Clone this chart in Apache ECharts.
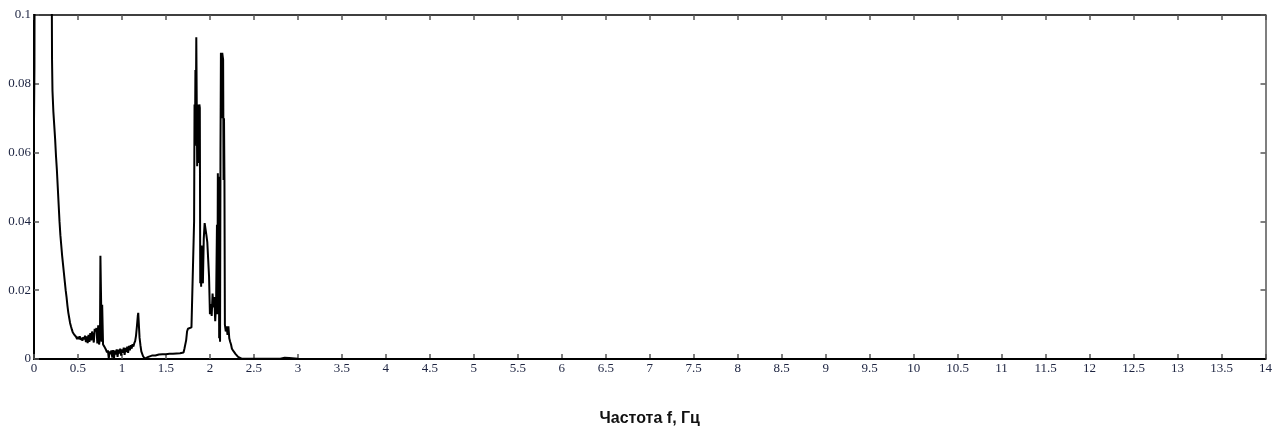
<!DOCTYPE html>
<html>
<head>
<meta charset="utf-8">
<script src="https://cdn.jsdelivr.net/npm/echarts@6/dist/echarts.min.js"></script>
<style>html,body{margin:0;padding:0;background:#fff;}#c{width:1275px;height:432px;}</style>
</head>
<body>
<div id="c"></div>
<script>
// Frequency (Hz) and amplitude values
const freq = [
  0, 0.005, 0.01, 0.03, 0.06, 0.1, 0.14, 0.18, 0.2, 0.205, 0.21, 0.22, 0.23, 0.24, 0.25, 0.26, 0.27, 0.28, 0.29, 0.30,
  0.31, 0.32, 0.33, 0.34, 0.35, 0.36, 0.37, 0.38, 0.39, 0.40, 0.41, 0.42, 0.43, 0.44, 0.45, 0.46, 0.47, 0.48, 0.49, 0.50,
  0.51, 0.52, 0.53, 0.54, 0.55, 0.56, 0.57, 0.58, 0.59, 0.60, 0.61, 0.62, 0.63, 0.64, 0.65, 0.66, 0.67, 0.68, 0.69, 0.70,
  0.71, 0.72, 0.73, 0.74, 0.75, 0.755, 0.765, 0.77, 0.775, 0.785, 0.80, 0.81, 0.82, 0.83, 0.84, 0.85, 0.86, 0.87, 0.88, 0.89,
  0.90, 0.91, 0.92, 0.93, 0.94, 0.95, 0.96, 0.97, 0.98, 0.99, 1.00, 1.01, 1.02, 1.03, 1.04, 1.05, 1.06, 1.07, 1.08, 1.09,
  1.10, 1.11, 1.12, 1.13, 1.14, 1.15, 1.16, 1.17, 1.18, 1.185, 1.195, 1.20, 1.21, 1.22, 1.24, 1.26, 1.28, 1.30, 1.32, 1.34,
  1.36, 1.38, 1.40, 1.42, 1.44, 1.46, 1.48, 1.50, 1.52, 1.54, 1.56, 1.58, 1.60, 1.62, 1.64, 1.66, 1.68, 1.70, 1.71, 1.72,
  1.73, 1.74, 1.75, 1.77, 1.79, 1.81, 1.82, 1.825, 1.83, 1.835, 1.84, 1.845, 1.85, 1.855, 1.86, 1.865, 1.87, 1.875, 1.88, 1.885,
  1.89, 1.895, 1.90, 1.905, 1.91, 1.92, 1.93, 1.94, 1.95, 1.96, 1.97, 1.98, 1.99, 2.00, 2.01, 2.02, 2.03, 2.04, 2.05, 2.06,
  2.07, 2.08, 2.085, 2.09, 2.095, 2.10, 2.105, 2.11, 2.115, 2.12, 2.125, 2.13, 2.135, 2.14, 2.145, 2.15, 2.155, 2.16, 2.165, 2.17,
  2.18, 2.19, 2.20, 2.21, 2.22, 2.23, 2.24, 2.25, 2.26, 2.27, 2.28, 2.29, 2.30, 2.32, 2.34, 2.36, 2.40, 2.50, 2.60, 2.70,
  2.80, 2.85, 2.87, 2.90, 2.92, 3.0, 3.5, 4.0, 5.0, 6.0, 7.0, 8.0, 9.0, 10.0, 11.0, 12.0, 13.0, 14.0
];
const amp = [
  0.069, 0.085, 0.16, 0.24, 0.30, 0.28, 0.22, 0.15, 0.12, 0.087, 0.078, 0.072, 0.068, 0.064, 0.059, 0.055, 0.050, 0.045, 0.040, 0.036,
  0.033, 0.030, 0.0275, 0.025, 0.0225, 0.020, 0.018, 0.0155, 0.0135, 0.012, 0.0105, 0.0095, 0.0086, 0.0078, 0.0073, 0.0070, 0.0066, 0.0064, 0.0058, 0.0064,
  0.0058, 0.0066, 0.0056, 0.0062, 0.0053, 0.0063, 0.0057, 0.0068, 0.0049, 0.0066, 0.0046, 0.0070, 0.0050, 0.0075, 0.0054, 0.0080, 0.0083, 0.0048, 0.0088, 0.0080,
  0.0090, 0.0045, 0.0098, 0.0042, 0.0060, 0.030, 0.0295, 0.0050, 0.0158, 0.0042, 0.0036, 0.0031, 0.0026, 0.0019, 0.0025, 0.0002, 0.0022, 0.0014, 0.0025, 0.0004,
  0.0026, 0.0003, 0.0024, 0.0013, 0.0028, 0.0006, 0.0027, 0.0016, 0.0030, 0.0010, 0.0028, 0.0018, 0.0033, 0.0012, 0.0032, 0.0020, 0.0036, 0.0018, 0.0038, 0.0025,
  0.0040, 0.0030, 0.0043, 0.0036, 0.0046, 0.0052, 0.0068, 0.0095, 0.0125, 0.0134, 0.0130, 0.0062, 0.0040, 0.0022, 0.0008, 0.0001, 0.0001, 0.0006, 0.0008, 0.0010,
  0.0011, 0.0010, 0.0012, 0.0013, 0.0012, 0.0014, 0.0015, 0.0014, 0.0016, 0.0015, 0.0014, 0.0015, 0.0018, 0.0016, 0.0015, 0.0017, 0.0015, 0.0019, 0.0030, 0.0034,
  0.0055, 0.0080, 0.0088, 0.0090, 0.0092, 0.0095, 0.040, 0.074, 0.062, 0.084, 0.070, 0.0935, 0.093, 0.056, 0.074, 0.057, 0.072, 0.060, 0.074, 0.073,
  0.022, 0.028, 0.021, 0.033, 0.023, 0.022, 0.035, 0.0395, 0.039, 0.036, 0.034, 0.029, 0.024, 0.013, 0.016, 0.0125, 0.019, 0.015, 0.018, 0.011,
  0.016, 0.039, 0.013, 0.054, 0.030, 0.053, 0.006, 0.030, 0.005, 0.060, 0.089, 0.088, 0.070, 0.089, 0.088, 0.087, 0.052, 0.070, 0.052, 0.010,
  0.008, 0.0095, 0.007, 0.0095, 0.006, 0.005, 0.0042, 0.0030, 0.0028, 0.0022, 0.0018, 0.0015, 0.0010, 0.0006, 0.0003, 0.0001, 0.00005, 0.0001, 0.00005, 0.00005,
  0.0001, 0.0004, 0.0004, 0.0003, 0.0, 0.00005, 0.00003, 0.00002, 0.00002, 0.00001, 0.00001, 0.00001, 0, 0, 0, 0, 0, 0
];
const yTicks = [0, 0.02, 0.04, 0.06, 0.08, 0.1];
const xTitle = 'Частота f, Гц';

const data = freq.map((f, i) => [f, amp[i]]);
const labelColor = '#1c2340';
const chart = echarts.init(document.getElementById('c'), null, {renderer: 'canvas'});
const tickStyle = {show: true, inside: true, length: 5, lineStyle: {color: '#555', width: 1.5}};
chart.setOption({
  animation: false,
  grid: {left: 34, right: 9, top: 15, bottom: 72, containLabel: false},
  xAxis: [{
    type: 'value', min: 0, max: 14, interval: 0.5, position: 'bottom',
    name: xTitle, nameLocation: 'middle', nameGap: 52,
    nameTextStyle: {fontFamily: 'Liberation Sans', fontWeight: 'bold', fontSize: 16, color: '#111'},
    axisLine: {show: true, onZero: false, lineStyle: {color: '#000', width: 2}},
    axisTick: tickStyle,
    axisLabel: {fontFamily: 'Liberation Serif', fontSize: 13, color: labelColor, margin: 3, showMaxLabel: true, showMinLabel: true},
    splitLine: {show: false}
  }, {
    type: 'value', min: 0, max: 14, interval: 0.5, position: 'top',
    axisLine: {show: true, onZero: false, lineStyle: {color: '#000', width: 1.5}},
    axisTick: tickStyle, axisLabel: {show: false}, splitLine: {show: false}
  }],
  yAxis: [{
    type: 'value', min: 0, max: 0.1, interval: 0.02, position: 'left',
    axisLine: {show: true, onZero: false, lineStyle: {color: '#000', width: 2}},
    axisTick: tickStyle,
    axisLabel: {fontFamily: 'Liberation Serif', fontSize: 13, color: labelColor, margin: 3,
      formatter: v => { const t = yTicks.find(y => Math.abs(y - v) < 1e-9); return t === undefined ? '' : String(t); }},
    splitLine: {show: false}
  }, {
    type: 'value', min: 0, max: 0.1, interval: 0.02, position: 'right',
    axisLine: {show: true, onZero: false, lineStyle: {color: '#555', width: 1.5}},
    axisTick: tickStyle, axisLabel: {show: false}, splitLine: {show: false}
  }],
  series: [{
    type: 'line', data: data, xAxisIndex: 0, yAxisIndex: 0,
    showSymbol: false, symbol: 'none', clip: true,
    lineStyle: {color: '#000', width: 2}
  }]
});
</script>
</body>
</html>
